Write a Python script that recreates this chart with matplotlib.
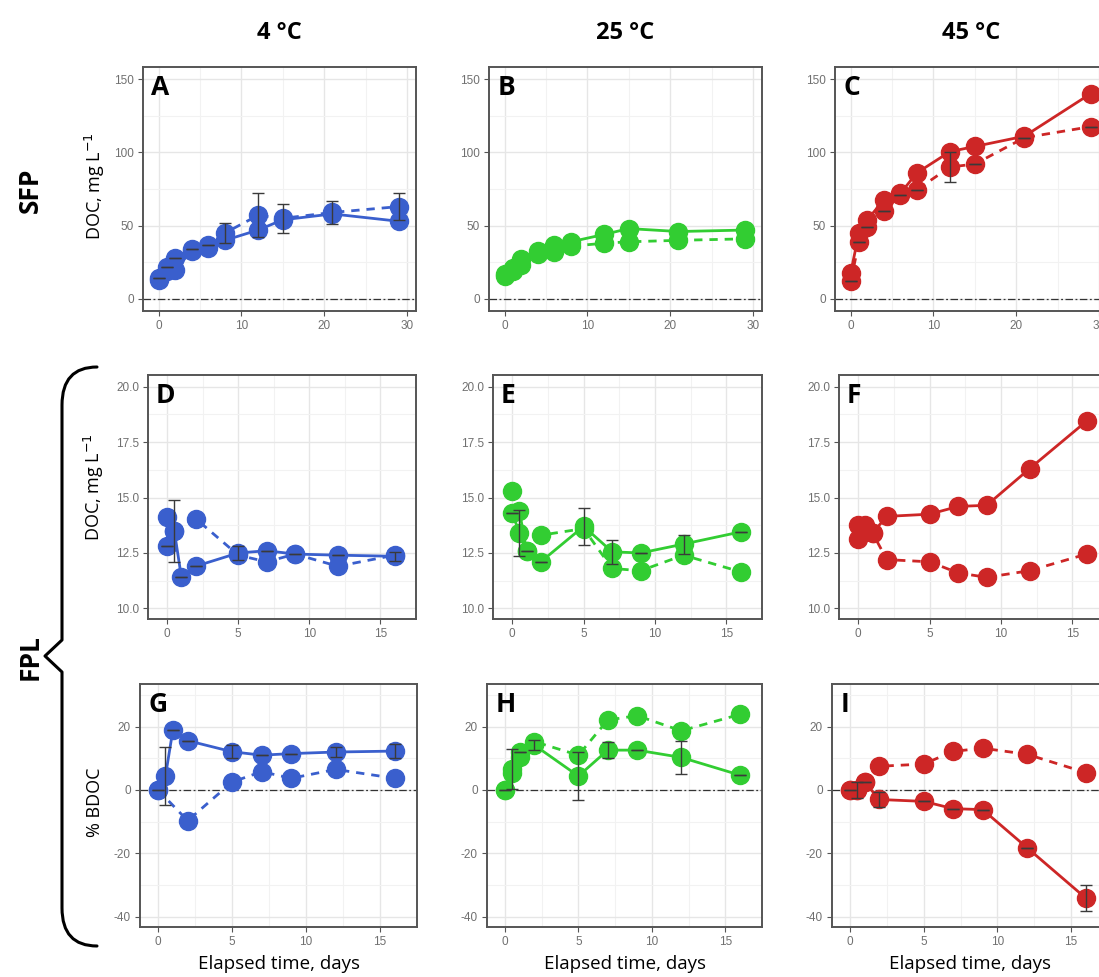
import matplotlib.pyplot as plt
from matplotlib.path import Path
from matplotlib.patches import PathPatch
import numpy as np

# sampling times (days)
t_sfp = [0, 1, 2, 4, 6, 8, 12, 15, 21, 29]
t_fpl = [0, 0.5, 1, 2, 5, 7, 9, 12, 16]
t_fpl_d = [0, 0.5, 2, 5, 7, 9, 12, 16]
t_fpl_g = [0, 2, 5, 7, 9, 12, 16]

# SFP, DOC (mg/L)
A_solid = [13, 19, 20, 33, 35, 40, 47, 54, 58, 53]
A_dash = [14, 22, 28, 34, 37, 45, 57, 55, 59, 63]
A_dash_err = [0, 0, 0, 0, 0, 7, 15, 10, 8, 9]
B_solid = [15.5, 21, 27, 31, 37, 39, 44, 48, 46, 47]
B_dash = [17, 19, 23, 33, 32, 36, 38, 39, 40, 41]
C_solid = [18, 45, 54, 67.5, 72, 86, 100.5, 104, 111, 140]
C_dash = [12, 39, 49, 60, 71, 74.5, 90, 92, 110, 117.5]
C_dash_err = [0, 0, 0, 0, 0, 0, 10, 0, 0, 0]

# FPL, DOC (mg/L)
D_solid = [12.8, 13.5, 11.4, 11.9, 12.5, 12.6, 12.45, 12.4, 12.35]
D_solid_err = [0, 1.4, 0, 0, 0.3, 0, 0, 0, 0.2]
D_dash = [14.1, 13.5, 14.05, 12.4, 12.1, 12.45, 11.9, 12.4]
E_solid = [14.3, 13.4, 12.6, 12.1, 13.7, 12.55, 12.5, 12.9, 13.45]
E_solid_err = [0, 1.05, 0, 0, 0.85, 0.55, 0, 0.43, 0]
E_dash = [15.3, 14.4, 12.6, 13.3, 13.6, 11.8, 11.7, 12.4, 11.65]
F_solid = [13.75, 13.75, 13.4, 14.15, 14.25, 14.6, 14.65, 16.3, 18.45]
F_dash = [13.15, 13.6, 13.4, 12.2, 12.1, 11.6, 11.4, 11.7, 12.45]

# FPL, % BDOC
G_solid = [0, 4.4, 18.9, 15.6, 12.1, 11.0, 11.5, 12.0, 12.3]
G_solid_err = [0, 9.2, 0, 0, 2.0, 0, 0, 1.5, 2.2]
G_dash = [0, -9.7, 2.5, 5.8, 3.7, 6.5, 3.7]
H_solid = [0, 6.5, 12.1, 14.2, 4.4, 12.6, 12.6, 10.3, 4.7]
H_solid_err = [0, 6.3, 0, 1.5, 7.6, 2.55, 0, 5.1, 0]
H_dash = [0, 5.5, 10.5, 15.3, 11.0, 22.1, 23.5, 18.7, 23.9]
I_solid = [0, 0, 2.4, -3.0, -3.6, -5.9, -6.2, -18.2, -34.2]
I_solid_err = [0, 2.5, 0, 2.3, 0, 0, 0, 0, 4.15]
I_dash = [0, 0, 2.4, 7.5, 8.2, 12.2, 13.2, 11.3, 5.5]

blue = '#3A5FCD'
green = '#32CD32'
red = '#CD2626'

col_titles = ['4 °C', '25 °C', '45 °C']
letters = ['A', 'B', 'C', 'D', 'E', 'F', 'G', 'H', 'I']

W, H = 1099, 977
fig = plt.figure(figsize=(W / 100, H / 100), dpi=100)

# axes boxes in pixels: left, top, right, bottom
boxes = [(143, 67, 416, 311), (489, 67, 762, 311), (835, 67, 1108, 311),
         (148, 375, 416, 619), (493, 375, 762, 619), (839, 375, 1108, 619),
         (140, 684, 417, 927), (487, 684, 762, 927), (832, 684, 1108, 927)]

panels = [
    (t_sfp, A_solid, None, t_sfp, A_dash, A_dash_err, blue),
    (t_sfp, B_solid, None, t_sfp, B_dash, None, green),
    (t_sfp, C_solid, None, t_sfp, C_dash, C_dash_err, red),
    (t_fpl, D_solid, D_solid_err, t_fpl_d, D_dash, None, blue),
    (t_fpl, E_solid, E_solid_err, t_fpl, E_dash, None, green),
    (t_fpl, F_solid, None, t_fpl, F_dash, None, red),
    (t_fpl, G_solid, G_solid_err, t_fpl_g, G_dash, None, blue),
    (t_fpl, H_solid, H_solid_err, t_fpl, H_dash, None, green),
    (t_fpl, I_solid, I_solid_err, t_fpl, I_dash, None, red),
]

row_xlim = [(-1.9, 31.1), (-1.35, 17.45), (-1.22, 17.24)]
row_ylim = [(-8.2, 158.2), (9.52, 20.53), (-43.3, 33.5)]
row_xt = [[0, 10, 20, 30], [0, 5, 10, 15], [0, 5, 10, 15]]
row_xm = [[5, 15, 25], [2.5, 7.5, 12.5, 17.5], [2.5, 7.5, 12.5, 17.5]]
row_yt = [[0, 50, 100, 150], [10, 12.5, 15, 17.5, 20], [-40, -20, 0, 20]]
row_ym = [[25, 75, 125], [11.25, 13.75, 16.25, 18.75], [-30, -10, 10, 30]]
row_fmt = ['{:g}', '{:.1f}', '{:g}']

for i, (box, p) in enumerate(zip(boxes, panels)):
    r = i // 3
    l, t, rr, b = box
    ax = fig.add_axes([l / W, 1 - b / H, (rr - l) / W, (b - t) / H])
    xs, ys, es, xd, yd, ed, c = p

    ax.plot(xs, ys, '-', color=c, lw=2, marker='o', ms=13, mec=c, zorder=3)
    ax.plot(xd, yd, '--', color=c, lw=2, dashes=(3, 2.5), marker='o', ms=13,
            mec=c, zorder=3)
    if es is not None:
        ax.errorbar(xs, ys, yerr=es, fmt='none', ecolor='#3a3a3a', elinewidth=1,
                    capsize=4, capthick=1, zorder=4)
    if ed is not None:
        ax.errorbar(xd, yd, yerr=ed, fmt='none', ecolor='#3a3a3a', elinewidth=1,
                    capsize=4, capthick=1, zorder=4)
    ax.axhline(0, color='#333333', lw=0.9, ls=(0, (6, 2, 1.5, 2)), zorder=2)

    ax.set_xlim(row_xlim[r])
    ax.set_ylim(row_ylim[r])
    ax.set_xticks(row_xt[r])
    ax.set_xticks(row_xm[r], minor=True)
    ax.set_yticks(row_yt[r])
    ax.set_yticks(row_ym[r], minor=True)
    ax.set_yticklabels([row_fmt[r].format(v) for v in row_yt[r]])
    ax.grid(which='major', color='#e6e6e6', lw=1)
    ax.grid(which='minor', color='#f2f2f2', lw=0.8)
    ax.set_axisbelow(True)
    ax.tick_params(which='major', length=3.5, width=0.8, color='#555555',
                   labelsize=8.5, labelcolor='#707070', pad=3)
    ax.tick_params(which='minor', length=0)
    for lab in ax.get_xticklabels() + ax.get_yticklabels():
        lab.set_fontfamily('Liberation Sans')
    for s in ax.spines.values():
        s.set_color('#555555')
        s.set_linewidth(1.4)

    ax.text(0.03, 0.97, letters[i], transform=ax.transAxes, ha='left', va='top',
            fontsize=19, fontweight='bold', family='Open Sans', zorder=5)

    if r == 0:
        ax.set_title(col_titles[i], fontsize=17, fontweight='bold',
                     family='Open Sans', pad=20)
    if r == 2:
        ax.set_xlabel('Elapsed time, days', fontsize=13.5, family='Open Sans',
                      labelpad=5)

# y labels on the left column
fig.text(95 / W, 1 - 186 / H, 'DOC, mg L$^{-1}$', rotation=90, ha='center',
         va='center', fontsize=13, family='Open Sans')
fig.text(94 / W, 1 - 487 / H, 'DOC, mg L$^{-1}$', rotation=90, ha='center',
         va='center', fontsize=13, family='Open Sans')
fig.text(95 / W, 1 - 802 / H, '% BDOC', rotation=90, ha='center',
         va='center', fontsize=13, family='Open Sans')

# row labels
fig.text(30 / W, 1 - 190 / H, 'SFP', rotation=90, ha='center', va='center',
         fontsize=19, fontweight='bold', family='Open Sans')
fig.text(30 / W, 1 - 657 / H, 'FPL', rotation=90, ha='center', va='center',
         fontsize=19, fontweight='bold', family='Open Sans')

# curly brace for FPL rows
ov = fig.add_axes([0, 0, 1, 1], facecolor='none')
ov.set_xlim(0, W)
ov.set_ylim(H, 0)
ov.axis('off')
verts = [(97, 367), (62, 367), (62, 405), (62, 640), (45, 656), (62, 672),
         (62, 908), (62, 946), (97, 946)]
codes = [Path.MOVETO, Path.CURVE3, Path.CURVE3, Path.LINETO, Path.LINETO,
         Path.LINETO, Path.LINETO, Path.CURVE3, Path.CURVE3]
ov.add_patch(PathPatch(Path(verts, codes), fill=False, lw=2.2, color='black',
                       capstyle='round', joinstyle='round'))

fig.savefig('out.png', dpi=100)
